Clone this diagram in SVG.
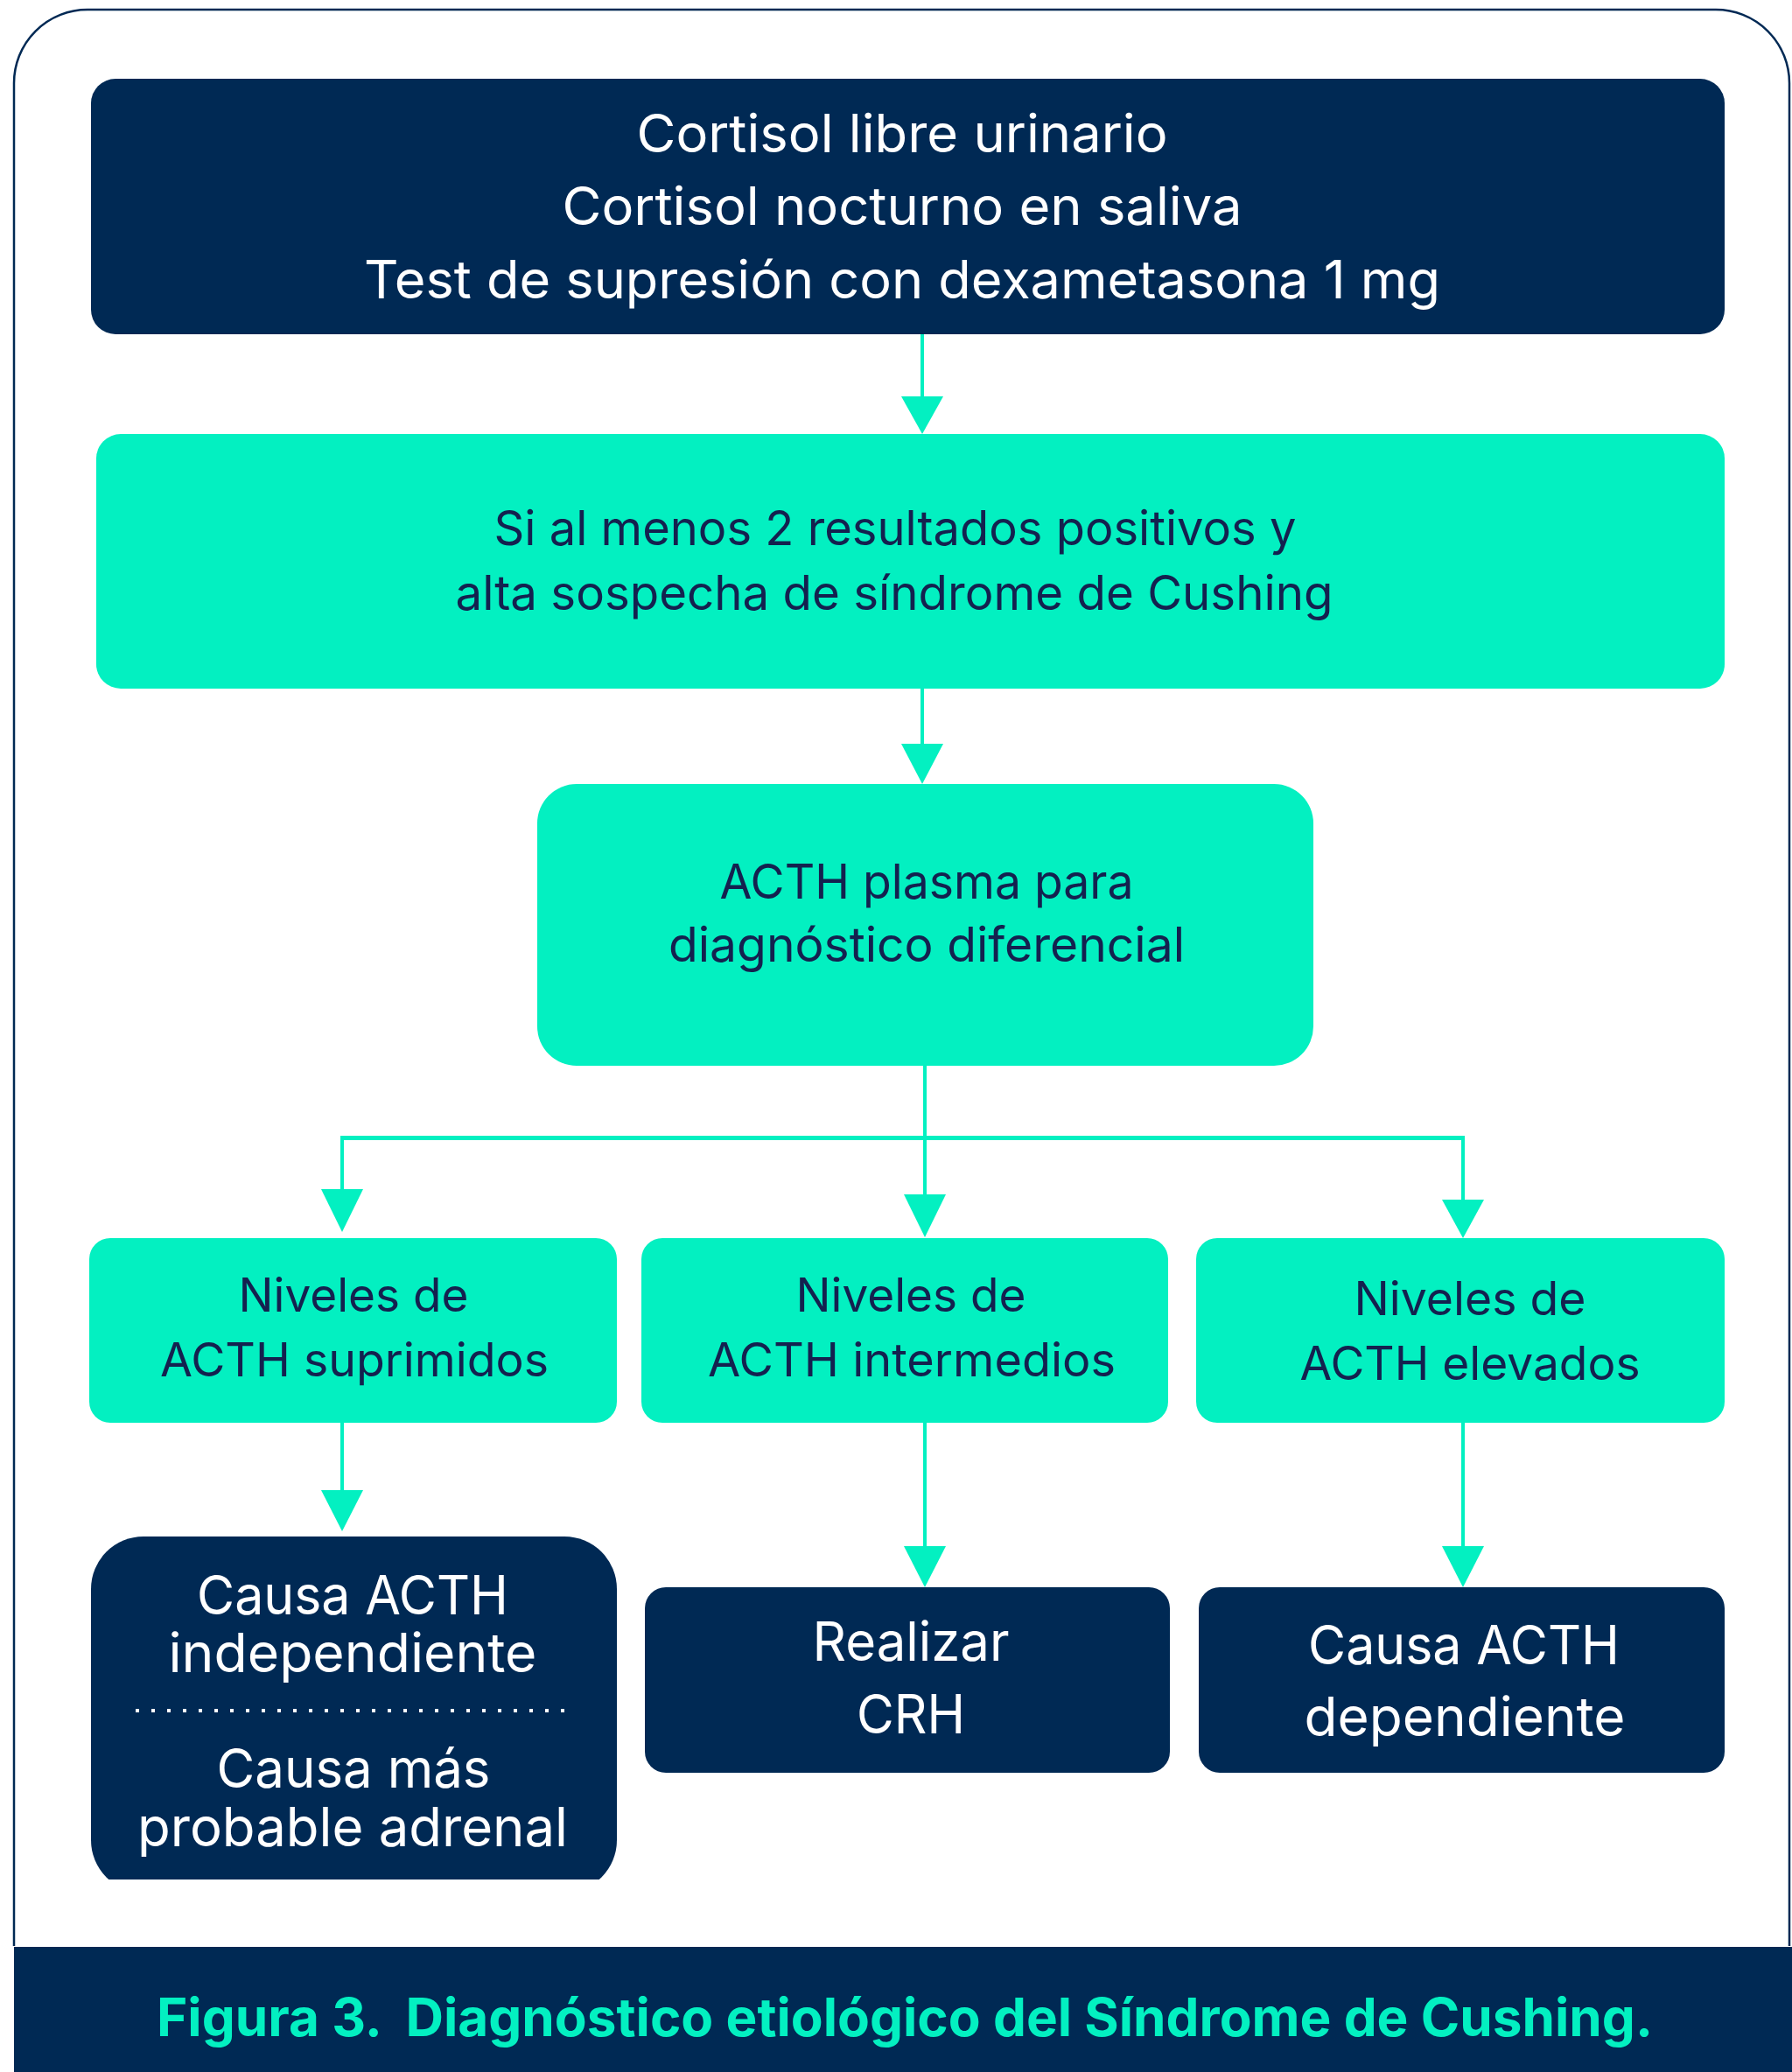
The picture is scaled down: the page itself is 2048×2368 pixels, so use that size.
<svg xmlns="http://www.w3.org/2000/svg" width="2048" height="2368" viewBox="0 0 2048 2368">
  <style>
    .navy { fill: #002954; }
    .teal { fill: #03F0C1; }
    .t-light { font-family: "Inter", "Liberation Sans", sans-serif; fill: #ffffff; text-anchor: middle; }
    .t-dark { font-family: "Inter", "Liberation Sans", sans-serif; fill: #14214f; text-anchor: middle; }
    .wire { stroke: #03F0C1; stroke-width: 4; fill: none; }
    .head { fill: #03F0C1; }
    .caption { font-family: "Inter", "Liberation Sans", sans-serif; font-weight: 700; fill: #03F0C1; }
  </style>
  <defs>
    <clipPath id="clip-bottom-a">
      <rect x="90" y="1740" width="640" height="408"/>
    </clipPath>
  </defs>

  <rect x="0" y="0" width="2048" height="2368" fill="#ffffff"/>

  <!-- outer frame with rounded top corners -->
  <path d="M16,2224 V95 A84,84 0 0 1 100,11 H1961 A84,84 0 0 1 2045,95 V2224" fill="none" stroke="#002954" stroke-width="2.5"/>

  <!-- connectors -->
  <g id="connectors">
    <line class="wire" x1="1054" y1="382" x2="1054" y2="455"/>
    <polygon class="head" points="1030,453 1078,453 1054,496"/>

    <line class="wire" x1="1054" y1="787" x2="1054" y2="852"/>
    <polygon class="head" points="1030,850 1078,850 1054,896"/>

    <line class="wire" x1="1057" y1="1218" x2="1057" y2="1367"/>
    <line x1="389" y1="1300.5" x2="1674" y2="1300.5" stroke="#03F0C1" stroke-width="5"/>
    <line class="wire" x1="391" y1="1298" x2="391" y2="1361"/>
    <polygon class="head" points="367,1359 415,1359 391,1408"/>
    <polygon class="head" points="1033,1365 1081,1365 1057,1414"/>
    <line class="wire" x1="1672" y1="1298" x2="1672" y2="1373"/>
    <polygon class="head" points="1648,1371 1696,1371 1672,1415"/>

    <line class="wire" x1="391" y1="1626" x2="391" y2="1705"/>
    <polygon class="head" points="367,1703 415,1703 391,1750"/>
    <line class="wire" x1="1057" y1="1626" x2="1057" y2="1769"/>
    <polygon class="head" points="1033,1767 1081,1767 1057,1814"/>
    <line class="wire" x1="1672" y1="1626" x2="1672" y2="1769"/>
    <polygon class="head" points="1648,1767 1696,1767 1672,1814"/>
  </g>

  <!-- screening tests -->
  <g id="node-tests">
    <rect class="navy" x="104" y="90" width="1867" height="292" rx="28"/>
    <text class="t-light" font-size="60" x="1031" y="174" textLength="607" lengthAdjust="spacingAndGlyphs">Cortisol libre urinario</text>
    <text class="t-light" font-size="60" x="1031" y="257" textLength="777" lengthAdjust="spacingAndGlyphs">Cortisol nocturno en saliva</text>
    <text class="t-light" font-size="60" x="1031" y="341" textLength="1230" lengthAdjust="spacingAndGlyphs">Test de supresión con dexametasona 1 mg</text>
  </g>

  <g id="node-positive">
    <rect class="teal" x="110" y="496" width="1861" height="291" rx="28"/>
    <text class="t-dark" font-size="55" x="1023" y="623" textLength="917" lengthAdjust="spacingAndGlyphs">Si al menos 2 resultados positivos y</text>
    <text class="t-dark" font-size="55" x="1022" y="697" textLength="1003" lengthAdjust="spacingAndGlyphs">alta sospecha de síndrome de Cushing</text>
  </g>

  <g id="node-acth-plasma">
    <rect class="teal" x="614" y="896" width="887" height="322" rx="45"/>
    <text class="t-dark" font-size="55" x="1059" y="1027" textLength="473" lengthAdjust="spacingAndGlyphs">ACTH plasma para</text>
    <text class="t-dark" font-size="55" x="1059" y="1099" textLength="590" lengthAdjust="spacingAndGlyphs">diagnóstico diferencial</text>
  </g>

  <g id="node-suprimidos">
    <rect class="teal" x="102" y="1415" width="603" height="211" rx="24"/>
    <text class="t-dark" font-size="53" x="404" y="1499" textLength="263" lengthAdjust="spacingAndGlyphs">Niveles de</text>
    <text class="t-dark" font-size="53" x="405" y="1573" textLength="444" lengthAdjust="spacingAndGlyphs">ACTH suprimidos</text>
  </g>

  <g id="node-intermedios">
    <rect class="teal" x="733" y="1415" width="602" height="211" rx="24"/>
    <text class="t-dark" font-size="53" x="1041" y="1499" textLength="263" lengthAdjust="spacingAndGlyphs">Niveles de</text>
    <text class="t-dark" font-size="53" x="1042" y="1573" textLength="466" lengthAdjust="spacingAndGlyphs">ACTH intermedios</text>
  </g>

  <g id="node-elevados">
    <rect class="teal" x="1367" y="1415" width="604" height="211" rx="24"/>
    <text class="t-dark" font-size="53" x="1680" y="1503" textLength="265" lengthAdjust="spacingAndGlyphs">Niveles de</text>
    <text class="t-dark" font-size="53" x="1680" y="1577" textLength="389" lengthAdjust="spacingAndGlyphs">ACTH elevados</text>
  </g>

  <g id="node-independiente">
    <rect class="navy" x="104" y="1756" width="601" height="407" rx="60" clip-path="url(#clip-bottom-a)"/>
    <text class="t-light" font-size="62" x="403" y="1845" textLength="356" lengthAdjust="spacingAndGlyphs">Causa ACTH</text>
    <text class="t-light" font-size="62" x="403" y="1911" textLength="421" lengthAdjust="spacingAndGlyphs">independiente</text>
    <line x1="155" y1="1955" x2="645" y2="1955" stroke="#ffffff" stroke-width="4" stroke-dasharray="4 14"/>
    <text class="t-light" font-size="62" x="404" y="2043" textLength="313" lengthAdjust="spacingAndGlyphs">Causa más</text>
    <text class="t-light" font-size="62" x="403" y="2110" textLength="492" lengthAdjust="spacingAndGlyphs">probable adrenal</text>
  </g>

  <g id="node-crh">
    <rect class="navy" x="737" y="1814" width="600" height="212" rx="24"/>
    <text class="t-light" font-size="62" x="1041" y="1898" textLength="225" lengthAdjust="spacingAndGlyphs">Realizar</text>
    <text class="t-light" font-size="62" x="1041" y="1981" textLength="124" lengthAdjust="spacingAndGlyphs">CRH</text>
  </g>

  <g id="node-dependiente">
    <rect class="navy" x="1370" y="1814" width="601" height="212" rx="24"/>
    <text class="t-light" font-size="62" x="1673" y="1902" textLength="356" lengthAdjust="spacingAndGlyphs">Causa ACTH</text>
    <text class="t-light" font-size="62" x="1674" y="1984" textLength="367" lengthAdjust="spacingAndGlyphs">dependiente</text>
  </g>

  <!-- caption band -->
  <rect class="navy" x="16" y="2225" width="2032" height="143"/>
  <text class="caption" font-size="60" x="179" y="2327" xml:space="preserve" textLength="1710" lengthAdjust="spacingAndGlyphs">Figura 3.  Diagnóstico etiológico del Síndrome de Cushing.</text>
</svg>
